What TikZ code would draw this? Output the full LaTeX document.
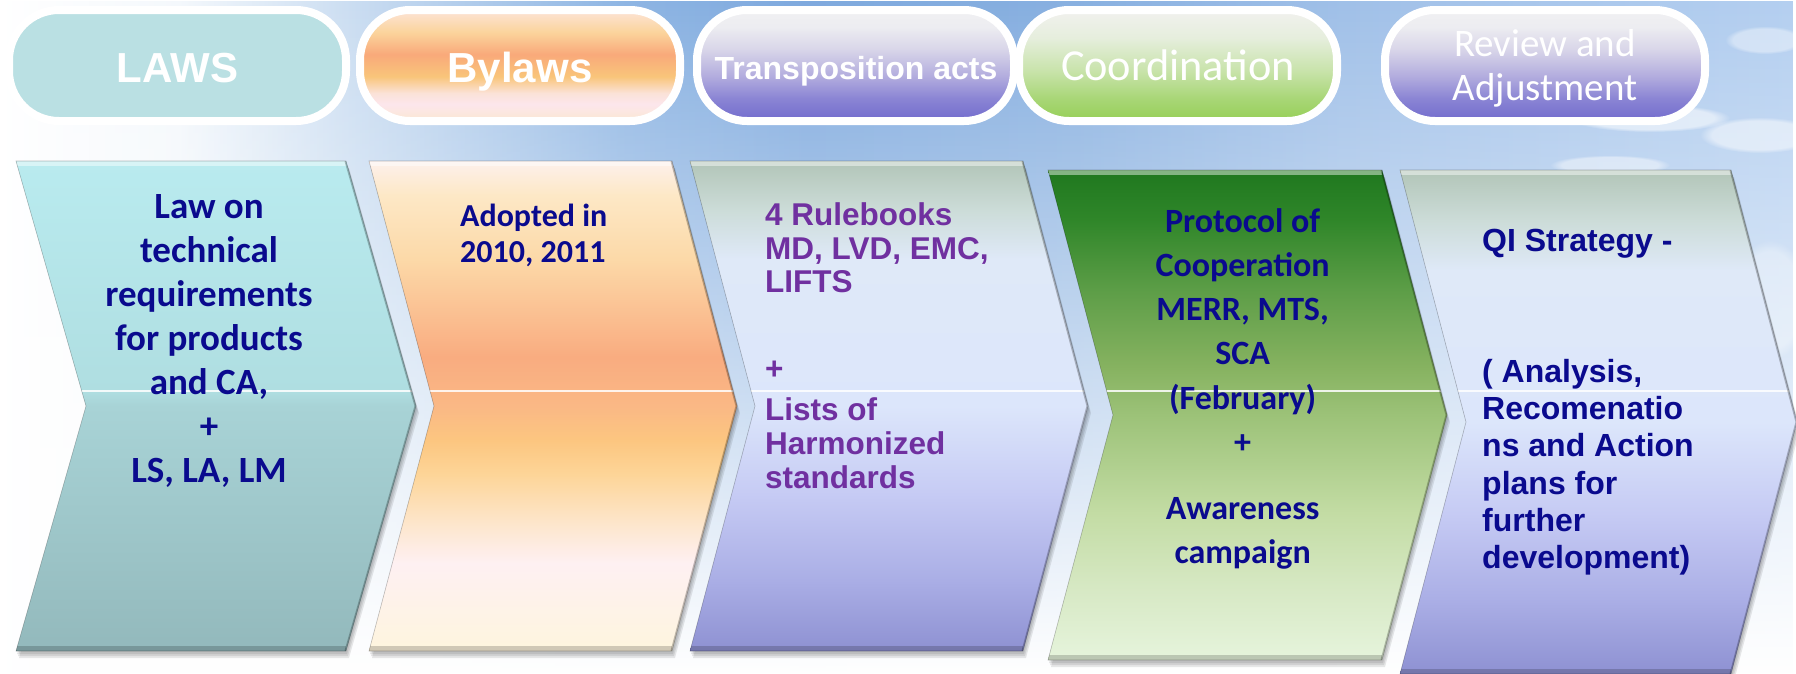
\documentclass[tikz,border=0pt]{standalone}
\usepackage{fontspec}
\setmainfont{Liberation Sans}
\newfontfamily\carl{Carlito}
\usetikzlibrary{fadings}

\definecolor{navyT}{HTML}{0A0A8E}
\definecolor{purpT}{HTML}{7030A0}
\definecolor{lawsC}{HTML}{BAE0E3}
% teal
\definecolor{t0}{HTML}{93B9BC}\definecolor{t1}{HTML}{A8D3D6}\definecolor{t2}{HTML}{AFDEE1}\definecolor{t3}{HTML}{B9EBEF}
% orange
\definecolor{o0}{HTML}{FEF5DE}\definecolor{o1}{HTML}{FEF0F2}\definecolor{o2}{HTML}{FDE6CC}\definecolor{o3}{HTML}{FDD598}
\definecolor{o4}{HTML}{FCC680}\definecolor{o5}{HTML}{FAB885}\definecolor{o6}{HTML}{F9AC80}\definecolor{o7}{HTML}{FCD9A8}
\definecolor{o8}{HTML}{FDE8C6}\definecolor{o9}{HTML}{FDF0EC}
% lavender
\definecolor{l0}{HTML}{8E91D2}\definecolor{l1}{HTML}{ABAFE6}\definecolor{l2}{HTML}{C6CBF4}\definecolor{l3}{HTML}{DCE6FB}
\definecolor{l4}{HTML}{DFE9F8}\definecolor{l5}{HTML}{CCDCD8}\definecolor{l6}{HTML}{B2C5B8}
% green
\definecolor{g0}{HTML}{E6F4DC}\definecolor{g1}{HTML}{D6E8C3}\definecolor{g2}{HTML}{C3DCA4}\definecolor{g3}{HTML}{9CC278}
\definecolor{g4}{HTML}{86B260}\definecolor{g5}{HTML}{5E9E48}\definecolor{g6}{HTML}{2F8629}\definecolor{g7}{HTML}{1F781F}
% pills
\definecolor{b0}{HTML}{FBE8D2}\definecolor{b1}{HTML}{FCE6EC}\definecolor{b2}{HTML}{FBE2D8}\definecolor{b3}{HTML}{F9C57A}
\definecolor{b4}{HTML}{F9A97A}\definecolor{b5}{HTML}{FBD49C}\definecolor{b6}{HTML}{FCE4D8}
\definecolor{pu0}{HTML}{726CCD}\definecolor{pu1}{HTML}{8A84D4}\definecolor{pu2}{HTML}{B2ACDE}\definecolor{pu3}{HTML}{D9D6E9}
\definecolor{pu4}{HTML}{EDEDF1}\definecolor{pu5}{HTML}{F0F0F2}
\definecolor{gp0}{HTML}{96CF57}\definecolor{gp1}{HTML}{A8D676}\definecolor{gp2}{HTML}{C8E3AA}\definecolor{gp3}{HTML}{E6EEDD}\definecolor{gp4}{HTML}{F1F1EE}
% sky
\definecolor{s1}{HTML}{F4F8FC}\definecolor{s2}{HTML}{C9DCF1}\definecolor{s3}{HTML}{8EB5E3}\definecolor{s4}{HTML}{7EA9DE}
\definecolor{s5}{HTML}{88B0E0}\definecolor{s6}{HTML}{A0C0E8}\definecolor{s7}{HTML}{B4CFF0}

\pgfdeclareverticalshading{shTeal}{100bp}{color(0bp)=(t0); color(25bp)=(t0); color(50bp)=(t1); color(51.5bp)=(t2); color(75bp)=(t3); color(100bp)=(t3)}
\pgfdeclareverticalshading{shOrange}{100bp}{color(0bp)=(o0); color(25bp)=(o0); color(34bp)=(o1); color(38bp)=(o2); color(43bp)=(o3); color(46.5bp)=(o4); color(50bp)=(o5); color(55bp)=(o6); color(65bp)=(o7); color(71.5bp)=(o8); color(75bp)=(o9); color(100bp)=(o9)}
\pgfdeclareverticalshading{shLav}{100bp}{color(0bp)=(l0); color(25bp)=(l0); color(32.5bp)=(l1); color(41bp)=(l2); color(50bp)=(l3); color(65bp)=(l4); color(70bp)=(l5); color(75bp)=(l6); color(100bp)=(l6)}
\pgfdeclareverticalshading{shGreen}{100bp}{color(0bp)=(g0); color(25bp)=(g0); color(32.5bp)=(g1); color(40bp)=(g2); color(50bp)=(g3); color(55bp)=(g4); color(62.5bp)=(g5); color(70bp)=(g6); color(75bp)=(g7); color(100bp)=(g7)}
\pgfdeclareverticalshading{shBy}{100bp}{color(0bp)=(b0); color(25bp)=(b0); color(32.5bp)=(b1); color(37.5bp)=(b2); color(45bp)=(b3); color(55bp)=(b4); color(65bp)=(b5); color(75bp)=(b6); color(100bp)=(b6)}
\pgfdeclareverticalshading{shPurp}{100bp}{color(0bp)=(pu0); color(25bp)=(pu0); color(35bp)=(pu1); color(45bp)=(pu2); color(57.5bp)=(pu3); color(67.5bp)=(pu4); color(75bp)=(pu5); color(100bp)=(pu5)}
\pgfdeclareverticalshading{shGp}{100bp}{color(0bp)=(gp0); color(25bp)=(gp0); color(35bp)=(gp1); color(47.5bp)=(gp2); color(62.5bp)=(gp3); color(75bp)=(gp4); color(100bp)=(gp4)}
\pgfdeclarehorizontalshading{shSky}{100bp}{color(0bp)=(white); color(25bp)=(white); color(30bp)=(s1); color(35bp)=(s2); color(42.5bp)=(s3); color(47.5bp)=(s4); color(55bp)=(s5); color(62.5bp)=(s6); color(75bp)=(s7); color(100bp)=(s7)}

\tikzfading[name=skyfade, top color=transparent!0, middle color=transparent!50, bottom color=transparent!100]

\newcommand{\tstrut}[1]{\rule{0pt}{#1}}
% L R T B d shading glossY
\newcommand{\drawchev}[7]{%
  \foreach \sx/\sy in {3/7,2/5,1/3}{%
    \begin{scope}[shift={(\sx,\sy)}]
      \fill[black,opacity=0.09] (#1,#3) -- (#2,#3) -- ({#2+#5},{(#3+#4)/2}) -- (#2,#4) -- (#1,#4) -- ({#1+#5},{(#3+#4)/2}) -- cycle;
    \end{scope}}
  \shade[shading=#6] (#1,#3) -- (#2,#3) -- ({#2+#5},{(#3+#4)/2}) -- (#2,#4) -- (#1,#4) -- ({#1+#5},{(#3+#4)/2}) -- cycle;
  \begin{scope}
    \clip (#1,#3) -- (#2,#3) -- ({#2+#5},{(#3+#4)/2}) -- (#2,#4) -- (#1,#4) -- ({#1+#5},{(#3+#4)/2}) -- cycle;
    \draw[white,opacity=0.85,line width=1.2] (#1,#7) -- ({#2+#5},#7);
    \draw[white,opacity=0.45,line width=10] (#1,#3) -- (#2,#3);
    \draw[black,opacity=0.18,line width=10] (#1,#4) -- (#2,#4);
    \draw[black,opacity=0.25,line width=3] (#2,#3) -- ({#2+#5},{(#3+#4)/2}) -- (#2,#4);
  \end{scope}
  \draw[black,opacity=0.25,line width=0.6] (#1,#3) -- (#2,#3) -- ({#2+#5},{(#3+#4)/2}) -- (#2,#4) -- (#1,#4) -- ({#1+#5},{(#3+#4)/2}) -- cycle;
}

\tikzset{
  pill/.style={draw=white, line width=8pt, rounded corners=50pt},
  pilltxt/.style={text=white, inner sep=0pt, anchor=base},
  chevtxt/.style={inner sep=0pt}
}

\begin{document}
\begin{tikzpicture}[x=1pt,y=-1pt]
\useasboundingbox (0,0) rectangle (1796,673);
\fill[white] (0,0) rectangle (1796,673);
\shade[shading=shSky, path fading=skyfade] (0,0) rectangle (1796,673);
% clouds
\fill[white, opacity=0.55, path fading=circle with fuzzy edge 20 percent] (1650,118) ellipse (80 and 14);
\fill[white, opacity=0.5, path fading=circle with fuzzy edge 20 percent] (1760,135) ellipse (60 and 18);
\fill[white, opacity=0.45, path fading=circle with fuzzy edge 20 percent] (1610,165) ellipse (60 and 10);
\fill[white, opacity=0.4, path fading=circle with fuzzy edge 20 percent] (1765,40) ellipse (40 and 14);
\fill[white, opacity=0.35, path fading=circle with fuzzy edge 20 percent] (1770,300) ellipse (40 and 60);

% pills
\filldraw[pill, fill=lawsC] (9,10) rectangle (346,121);
\shadedraw[pill, shading=shBy] (360,10) rectangle (680,121);
\shadedraw[pill, shading=shPurp] (697,10) rectangle (1014,121);
\shadedraw[pill, shading=shGp] (1019,10) rectangle (1337,121);
\shadedraw[pill, shading=shPurp] (1385,10) rectangle (1705,121);

\node[pilltxt, font=\bfseries\fontsize{42}{48}\selectfont] (tLaws) at (177.5,82) {LAWS};
\node[pilltxt, font=\bfseries\fontsize{42}{48}\selectfont] (tBylaws) at (520,82) {Bylaws};
\node[pilltxt, font=\bfseries\fontsize{32}{36}\selectfont] (tTrans) at (856,79) {Transposition acts};
\node[pilltxt, font=\carl\fontsize{44.3}{50}\selectfont] (tCoord) at (1178,80) {Coordination};
\node[chevtxt, text=white, font=\carl\fontsize{39}{44}\selectfont, align=center, anchor=north] (tReview) at (1545,26) {\tstrut{30pt}Review and\\Adjustment};

% chevrons
\drawchev{16}{346}{161}{651}{70}{shTeal}{391}
\drawchev{369}{672}{161}{651}{65}{shOrange}{391}
\drawchev{690}{1023}{161}{651}{65}{shLav}{391}
\drawchev{1048}{1382}{170}{660}{65}{shGreen}{391}
\drawchev{1400}{1731}{170}{674}{66}{shLav}{391}

% chevron texts
\node[chevtxt, text=navyT, font=\carl\bfseries\fontsize{37}{44}\selectfont, align=center, anchor=north] (c1) at (209,188)
  {\tstrut{30pt}Law on\\technical\\requirements\\for products\\and CA,\\+\\LS, LA, LM};
\node[chevtxt, text=navyT, font=\carl\bfseries\fontsize{32}{36.7}\selectfont, align=left, anchor=north west] (c2) at (460,200)
  {\tstrut{26pt}Adopted in\\2010, 2011};
\node[chevtxt, text=purpT, font=\bfseries\fontsize{31.5}{33.8}\selectfont, align=left, anchor=north west] (c3) at (765,195)
  {\tstrut{30pt}4 Rulebooks\\MD, LVD, EMC,\\LIFTS\\[53pt]+\\[7pt]Lists of\\Harmonized\\standards};
\node[chevtxt, text=navyT, font=\carl\bfseries\fontsize{34}{44.2}\selectfont, align=center, anchor=north] (c4) at (1242.6,202)
  {\tstrut{30pt}Protocol of\\Cooperation\\MERR, MTS,\\SCA\\(February)\\+\\[22pt]Awareness\\campaign};
\node[chevtxt, text=navyT, font=\bfseries\fontsize{32}{37.3}\selectfont, align=left, anchor=north west] (c5) at (1482,221.6)
  {\tstrut{30pt}QI Strategy -\\[93pt]( Analysis,\\Recomenatio\\ns and Action\\plans for\\further\\development)};
\end{tikzpicture}
\end{document}
